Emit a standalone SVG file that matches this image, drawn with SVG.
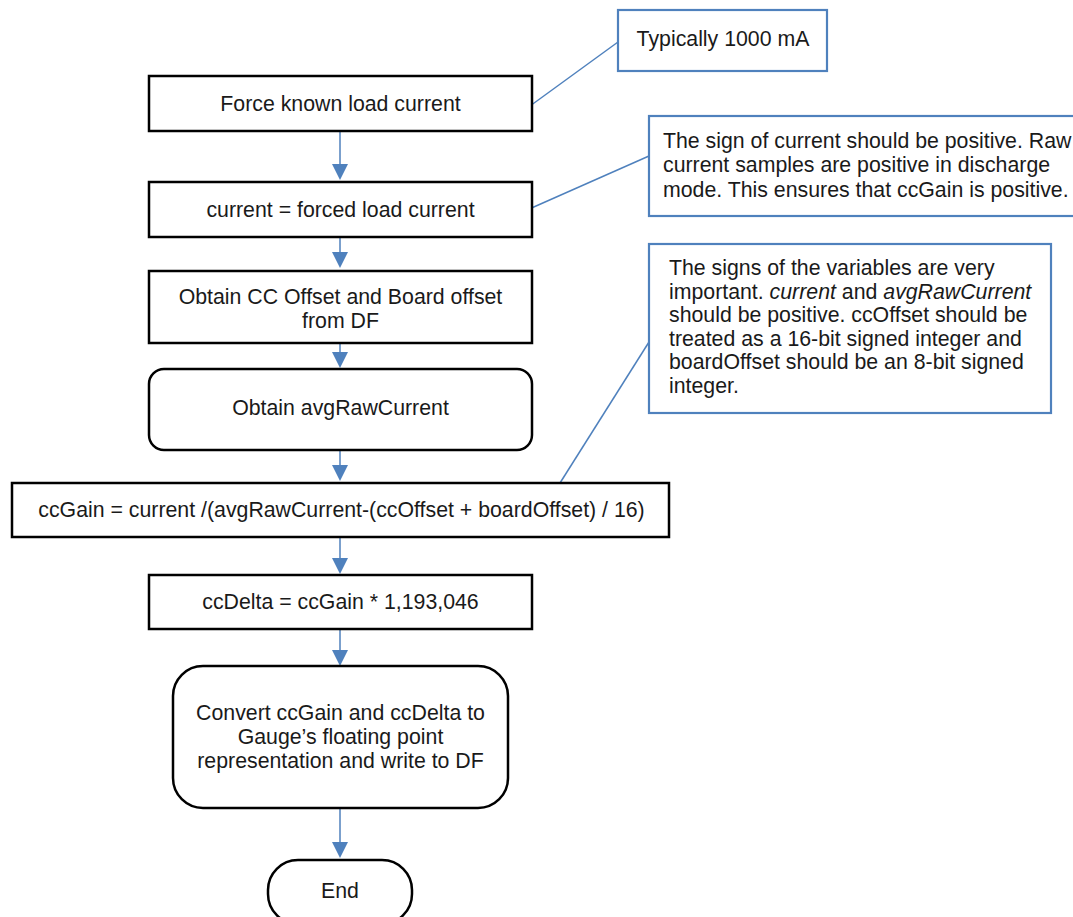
<svg xmlns="http://www.w3.org/2000/svg" width="1073" height="917" viewBox="0 0 1073 917">
  <defs>
    <style>
      .box { fill: #ffffff; stroke: #000000; stroke-width: 2.5; }
      .note { fill: #ffffff; stroke: #4f81bd; stroke-width: 2.2; }
      .t { font-family: "Liberation Sans", Arial, sans-serif; font-size: 21.3px; fill: #1a1a1a; }
      .c { text-anchor: middle; }
      .conn { stroke: #4f81bd; stroke-width: 1.5; fill: none; }
      .head { fill: #4f81bd; stroke: none; }
    </style>
  </defs>
  <rect x="0" y="0" width="1073" height="917" fill="#ffffff"/>

  <g id="connectors">
    <line class="conn" x1="340" y1="131" x2="340" y2="165"/>
    <polygon class="head" points="332,164 348,164 340,180"/>
    <line class="conn" x1="340" y1="237" x2="340" y2="253"/>
    <polygon class="head" points="332,252 348,252 340,268"/>
    <line class="conn" x1="340" y1="343" x2="340" y2="353"/>
    <polygon class="head" points="332,352 348,352 340,368"/>
    <line class="conn" x1="340" y1="450" x2="340" y2="466"/>
    <polygon class="head" points="332,465 348,465 340,481"/>
    <line class="conn" x1="340" y1="537" x2="340" y2="559"/>
    <polygon class="head" points="332,558 348,558 340,574"/>
    <line class="conn" x1="340" y1="629" x2="340" y2="651"/>
    <polygon class="head" points="332,650 348,650 340,666"/>
    <line class="conn" x1="340" y1="808" x2="340" y2="843"/>
    <polygon class="head" points="332,842 348,842 340,858"/>
    <line class="conn" x1="530" y1="106" x2="618" y2="42"/>
    <line class="conn" x1="527" y1="210" x2="649" y2="156"/>
    <line class="conn" x1="560" y1="483" x2="649" y2="342"/>
  </g>

  <g id="force">
    <rect class="box" x="149" y="76" width="383" height="55"/>
    <text class="t c" x="340.5" y="111">Force known load current</text>
  </g>
  <g id="current">
    <rect class="box" x="149" y="182" width="383" height="55"/>
    <text class="t c" x="340.5" y="217">current = forced load current</text>
  </g>
  <g id="obtain-offset">
    <rect class="box" x="149" y="271" width="383" height="72"/>
    <text class="t c" x="340.5" y="303.5">Obtain CC Offset and Board offset</text>
    <text class="t c" x="340.5" y="327.5">from DF</text>
  </g>
  <g id="obtain-raw">
    <rect class="box" x="149" y="369" width="383" height="81" rx="15" ry="15"/>
    <text class="t c" x="340.5" y="415">Obtain avgRawCurrent</text>
  </g>
  <g id="ccgain">
    <rect class="box" x="12" y="483" width="657" height="54"/>
    <text class="t c" x="341.5" y="517">ccGain = current /(avgRawCurrent-(ccOffset + boardOffset) / 16)</text>
  </g>
  <g id="ccdelta">
    <rect class="box" x="149" y="575" width="383" height="54"/>
    <text class="t c" x="340.5" y="609">ccDelta = ccGain * 1,193,046</text>
  </g>
  <g id="convert">
    <rect class="box" x="173" y="666" width="335" height="142" rx="30" ry="30"/>
    <text class="t c" x="340.5" y="720">Convert ccGain and ccDelta to</text>
    <text class="t c" x="340.5" y="744">Gauge’s floating point</text>
    <text class="t c" x="340.5" y="768">representation and write to DF</text>
  </g>
  <g id="end">
    <rect class="box" x="268" y="860" width="144" height="64" rx="30" ry="30"/>
    <text class="t c" x="340" y="898">End</text>
  </g>

  <g id="note-typical">
    <rect class="note" x="618" y="10" width="209" height="61"/>
    <text class="t c" x="723" y="46">Typically 1000 mA</text>
  </g>
  <g id="note-sign">
    <rect class="note" x="649" y="116" width="440" height="100"/>
    <text class="t" x="663" y="147.5">The sign of current should be positive. Raw</text>
    <text class="t" x="663" y="172">current samples are positive in discharge</text>
    <text class="t" x="663" y="196.5">mode. This ensures that ccGain is positive.</text>
  </g>
  <g id="note-signs">
    <rect class="note" x="649" y="244" width="402" height="169"/>
    <text class="t" x="669" y="275">The signs of the variables are very</text>
    <text class="t" x="669" y="298.5">important. <tspan font-style="italic">current</tspan> and <tspan font-style="italic">avgRawCurrent</tspan></text>
    <text class="t" x="669" y="322">should be positive. ccOffset should be</text>
    <text class="t" x="669" y="345.5">treated as a 16-bit signed integer and</text>
    <text class="t" x="669" y="369">boardOffset should be an 8-bit signed</text>
    <text class="t" x="669" y="392.5">integer.</text>
  </g>
</svg>
